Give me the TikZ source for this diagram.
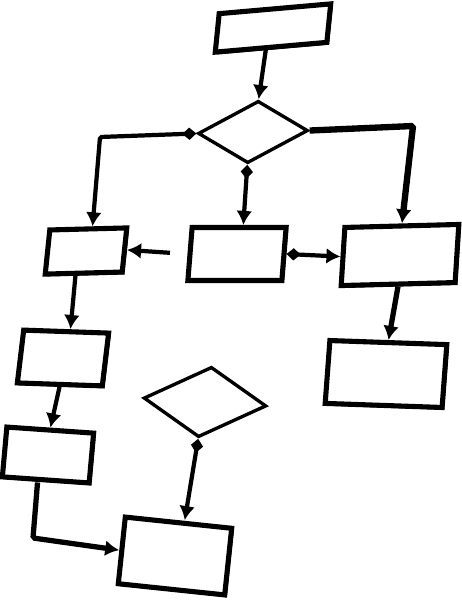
\documentclass[tikz,border=0pt]{standalone}
\usetikzlibrary{shapes.geometric,arrows.meta,shadows}
\begin{document}
\begin{tikzpicture}[x=0.02cm, y=-0.02cm,
    box/.style={rectangle, draw, fill=white, line width=2.9pt, inner sep=0pt,
      drop shadow={shadow xshift=1.2pt, shadow yshift=-1.3pt, fill=black, opacity=1}},
    choice/.style={diamond, draw, fill=white, line width=1.9pt, inner sep=0pt},
    flow/.style={line width=2.4pt, -{Latex[length=8pt,width=9pt]}},
    both/.style={line width=2.4pt, {Diamond[length=8pt,width=7pt]}-{Latex[length=8pt,width=9pt]}}]
  \useasboundingbox (0,0) rectangle (462,600);
  % Nodes
  \node (top) [box, minimum width=2.24cm, minimum height=0.76cm, rotate=5, xslant=0.19] at (273,28) {};
  \node (d1) [choice, minimum width=2.2cm, minimum height=1.24cm, rotate=1.5, xslant=0.2] at (253,132) {};
  \node (l1) [box, minimum width=1.54cm, minimum height=0.88cm, rotate=1.5, xslant=0.13] at (86,251) {};
  \node (m1) [box, minimum width=1.88cm, minimum height=1.06cm, xslant=0.08] at (237,254) {};
  \node (r1) [box, minimum width=2.28cm, minimum height=1.16cm, rotate=1.5, xslant=0.09] at (400,255) {};
  \node (l2) [box, minimum width=1.7cm, minimum height=1.06cm, rotate=-2, xslant=0.085] at (63,358) {};
  \node (r2) [box, minimum width=2.34cm, minimum height=1.26cm, rotate=-2, xslant=0.04] at (386,374) {};
  \node (d2) [choice, minimum width=2.46cm, minimum height=1.42cm, rotate=-3.7, xslant=0.12] at (205,402) {};
  \node (l3) [box, minimum width=1.74cm, minimum height=1.0cm, rotate=-4, xslant=0.02] at (48,455) {};
  \node (b) [box, minimum width=2.14cm, minimum height=1.34cm, rotate=-6] at (175,556) {};
  % Bends
  \coordinate (kl) at (100,137);
  \coordinate (kr) at (413,126);
  \coordinate (kb) at (33,538);
  % Arrows
  \draw[flow] ([xshift=-0.1cm]top.south) -- (d1.north);
  \draw[both, rounded corners=1pt] (d1.west) -- (kl) -- ([xshift=0.08cm]l1.north);
  \draw[both] (d1.south) -- ([xshift=0.08cm]m1.north);
  \draw[flow, line width=3.6pt, rounded corners=1pt] (d1.east) -- (kr) -- (r1.north);
  \draw[flow, shorten <=10pt] (m1.west) -- (l1.east);
  \draw[both] (m1.east) -- (r1.west);
  \draw[flow] ([xshift=-0.16cm]l1.south) -- ([xshift=0.08cm]l2.north);
  \draw[flow] (l2.south) -- (l3.north);
  \draw[flow, line width=3pt, rounded corners=1pt] ([xshift=-0.16cm]l3.south) -- (kb) -- (b.west);
  \draw[flow, line width=3pt] (r1.south) -- (r2.north);
  \draw[both] (d2.south) -- ([xshift=0.12cm]b.north);
\end{tikzpicture}
\end{document}
